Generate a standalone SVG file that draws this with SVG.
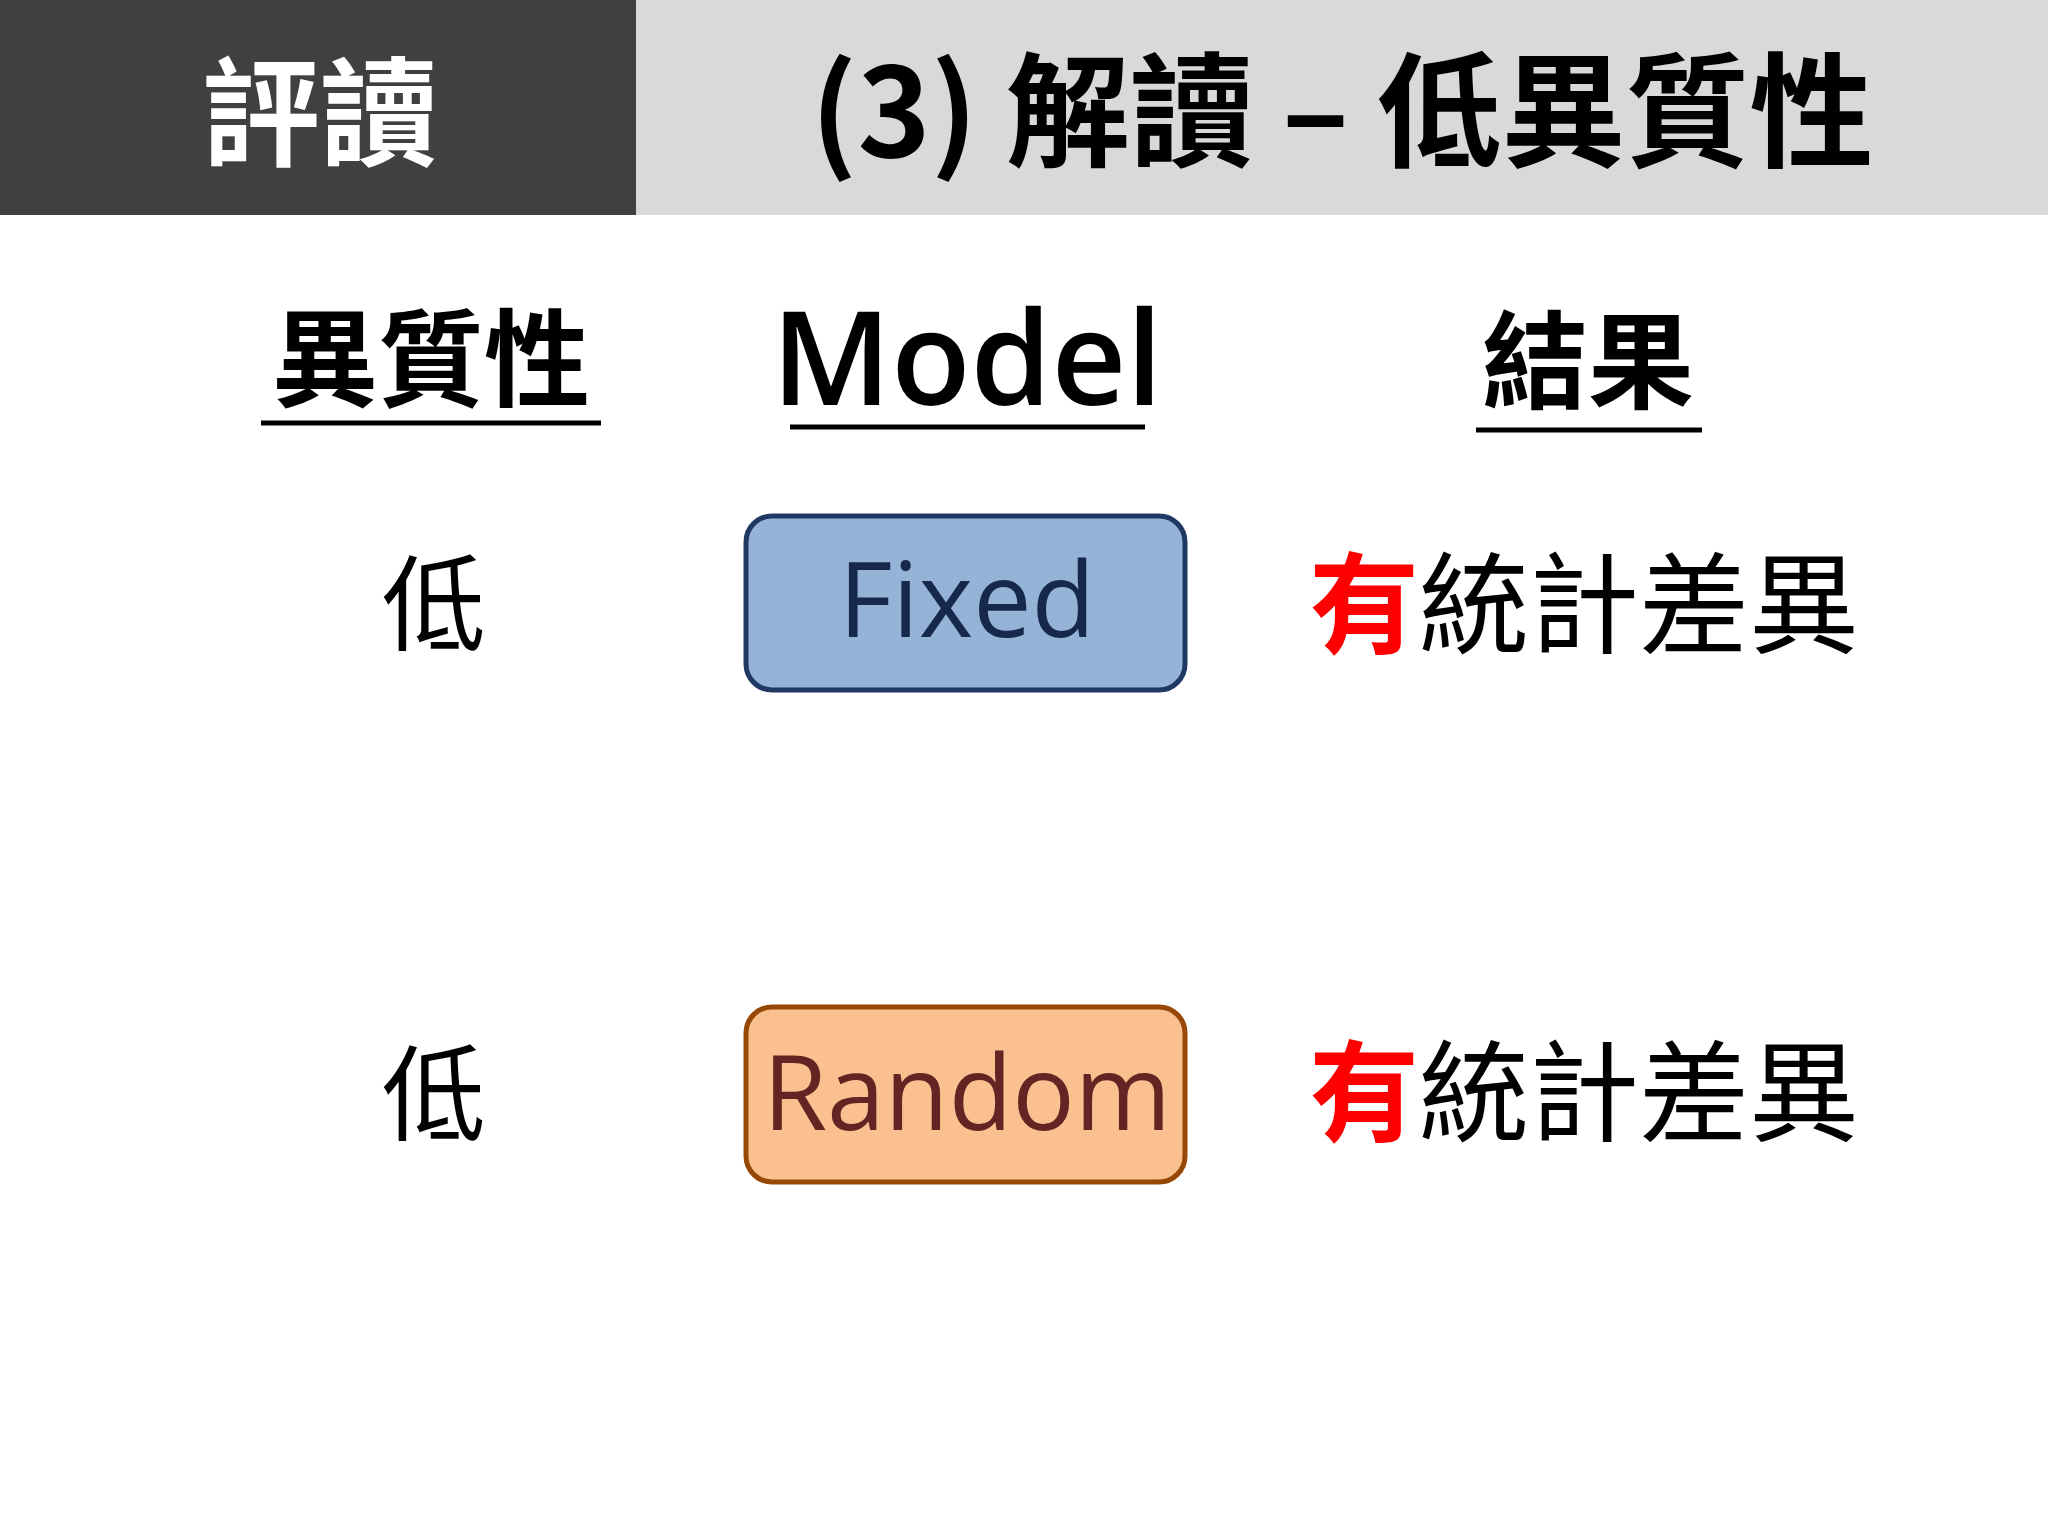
<svg xmlns="http://www.w3.org/2000/svg" width="2048" height="1536" viewBox="0 0 2048 1536">
<style>
text{font-family:"Noto Sans CJK TC","Noto Sans",sans-serif;text-anchor:middle}
.h{font-weight:bold;font-size:106px;fill:#000}
.u{stroke:#000;stroke-width:5}
.low{font-size:104px;fill:#000}
.res{font-size:110px;fill:#000;text-anchor:start}
.lbl{font-family:"Open Sans","Noto Sans",sans-serif;font-size:104px}
</style>
<rect width="2048" height="1536" fill="#fff"/>
<g id="header">
<rect x="0" y="0" width="636" height="215" fill="#404040"/>
<rect x="636" y="0" width="1412" height="215" fill="#d9d9d9"/>
<text x="320" y="157" font-size="118" font-weight="bold" fill="#fff">評讀</text>
<text x="1342" y="157" font-size="124" font-weight="bold" fill="#000">(3) 解讀 – 低異質性</text>
</g>
<g id="col-heterogeneity"><text class="h" x="431" y="398">異質性</text><line class="u" x1="261" y1="423" x2="601" y2="423"/></g>
<g id="col-model"><text class="h" x="967" y="405" style="font-family:'Open Sans','Noto Sans',sans-serif;font-weight:600;font-size:130px">Model</text><line class="u" x1="790" y1="427" x2="1145" y2="427"/></g>
<g id="col-result"><text class="h" x="1588" y="400">結果</text><line class="u" x1="1476" y1="430" x2="1702" y2="430"/></g>
<g id="row1-low"><text class="low" x="434" y="643">低</text></g>
<g id="fixed"><rect x="746" y="516" width="439" height="174" rx="26" fill="#95b3d7" stroke="#1f3864" stroke-width="5"/><text class="lbl" x="967" y="637" fill="#17294a">Fixed</text></g>
<g id="row1-result"><text class="res" x="1309" y="645"><tspan fill="#ff0000" font-weight="bold">有</tspan>統計差異</text></g>
<g id="row2-low"><text class="low" x="434" y="1133">低</text></g>
<g id="random"><rect x="746" y="1007" width="439" height="175" rx="26" fill="#fac090" stroke="#974706" stroke-width="5"/><text class="lbl" x="967" y="1130" fill="#632523">Random</text></g>
<g id="row2-result"><text class="res" x="1309" y="1133"><tspan fill="#ff0000" font-weight="bold">有</tspan>統計差異</text></g>
<g id="connectors"/>
</svg>
